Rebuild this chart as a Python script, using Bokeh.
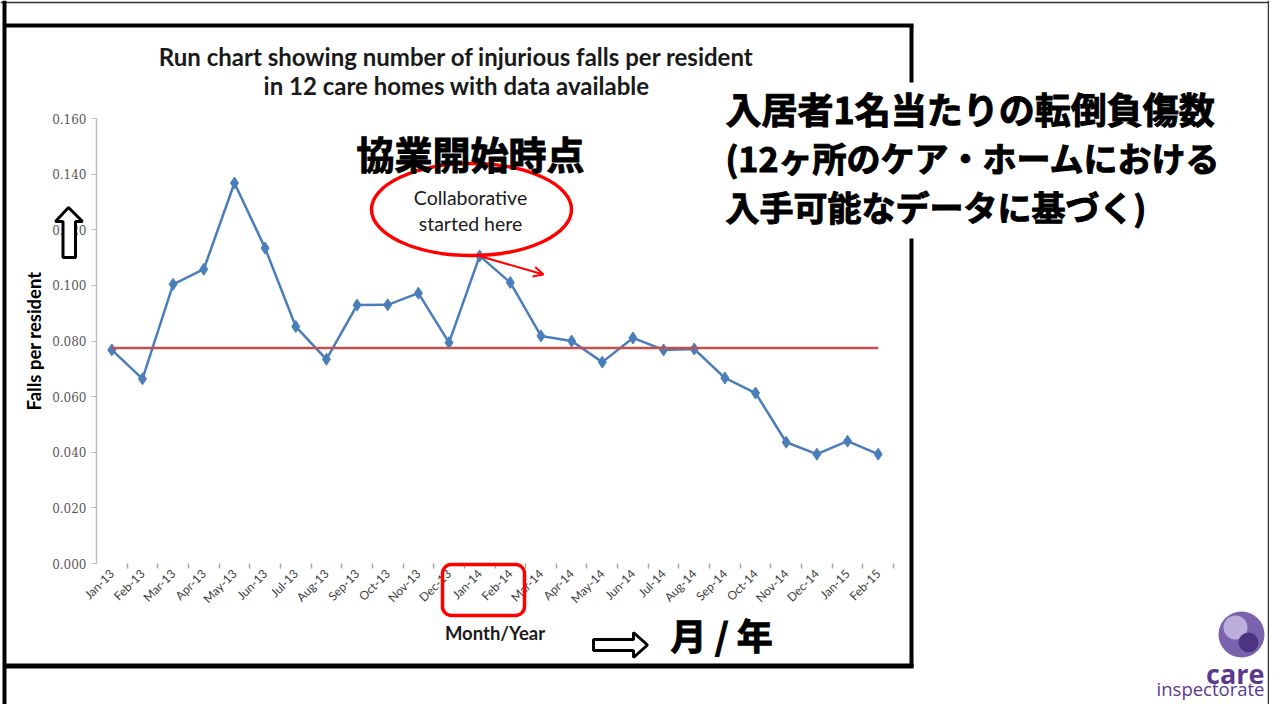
import math
from bokeh.plotting import figure
from bokeh.layouts import column
from bokeh.models import (Range1d, FixedTicker, CustomJSTickFormatter, NumeralTickFormatter,
                          Label, Arrow, OpenHead, BoxAnnotation)
from bokeh.embed import file_html
from bokeh.resources import INLINE

# ---------------- data ----------------
months = ["Jan-13", "Feb-13", "Mar-13", "Apr-13", "May-13", "Jun-13", "Jul-13", "Aug-13",
          "Sep-13", "Oct-13", "Nov-13", "Dec-13", "Jan-14", "Feb-14", "Mar-14", "Apr-14",
          "May-14", "Jun-14", "Jul-14", "Aug-14", "Sep-14", "Oct-14", "Nov-14", "Dec-14",
          "Jan-15", "Feb-15"]
falls_per_resident = [0.0768, 0.0664, 0.1004, 0.1058, 0.1368, 0.1134, 0.0852, 0.0734,
                      0.0929, 0.0930, 0.0972, 0.0794, 0.1106, 0.1010, 0.0818, 0.0800,
                      0.0724, 0.0811, 0.0768, 0.0771, 0.0667, 0.0613, 0.0436, 0.0393,
                      0.0440, 0.0393]
mean_line = [0.0775] * 26
y_ticks = [0.000, 0.020, 0.040, 0.060, 0.080, 0.100, 0.120, 0.140, 0.160]

title_lines = ["Run chart showing number of injurious falls per resident",
               "in 12 care homes with  data available"]
jp_title = ["入居者1名当たりの転倒負傷数", "(12ヶ所のケア・ホームにおける", "入手可能なデータに基づく)"]
jp_start = "協業開始時点"
callout = ["Collaborative", "started here"]
jp_axis = "月 / 年"

# ---------------- chart figure ----------------
W, H = 1269, 704
FL, FR, FT, FB = 96, 893, 118, 563   # plot frame in pixels

p = figure(width=W, height=H, output_backend="svg", toolbar_location=None,
           x_range=Range1d(0, len(months)), y_range=Range1d(0, 0.16),
           min_border_left=FL, min_border_right=W - FR,
           min_border_top=FT, min_border_bottom=H - FB, frame_align=False)
p.background_fill_color = "white"
p.border_fill_color = "white"
p.outline_line_color = None
p.grid.visible = False

ya = p.yaxis[0]
ya.ticker = FixedTicker(ticks=y_ticks)
ya.formatter = NumeralTickFormatter(format="0.000")
ya.major_label_text_font = "DejaVu Serif"
ya.major_label_text_font_size = "12px"
ya.major_label_text_color = "#595959"
ya.axis_line_color = "#bfbfbf"
ya.axis_line_width = 1.5
ya.major_tick_line_color = "#bfbfbf"
ya.major_tick_out = 5
ya.major_tick_in = 0
ya.minor_tick_line_color = None
ya.major_label_standoff = 5
ya.axis_label = "Falls per resident"
ya.axis_label_text_font = "Lato"
ya.axis_label_text_font_style = "bold"
ya.axis_label_text_font_size = "18.5px"
ya.axis_label_text_color = "black"
ya.axis_label_standoff = 4

centers = [i + 0.5 for i in range(len(months))]
xa = p.xaxis[0]
xa.ticker = FixedTicker(ticks=centers, minor_ticks=list(range(1, len(months) + 1)))
xa.formatter = CustomJSTickFormatter(args=dict(labels=months),
                                     code="return labels[Math.floor(tick)];")
xa.major_label_orientation = math.pi / 4
xa.major_label_text_font = "Lato"
xa.major_label_text_font_size = "12px"
xa.major_label_text_color = "#404040"
xa.axis_line_color = None
xa.major_tick_line_color = None
xa.major_tick_out = 5
xa.minor_tick_line_color = "#a6a6a6"
xa.minor_tick_line_width = 1.5
xa.minor_tick_out = 5
xa.minor_tick_in = 0
xa.major_label_standoff = 3
xa.axis_label = "Month/Year"
xa.axis_label_text_font = "Lato"
xa.axis_label_text_font_style = "bold"
xa.axis_label_text_font_size = "18.5px"
xa.axis_label_text_color = "#1a1a1a"
xa.axis_label_standoff = 8

p.line(centers, falls_per_resident, line_color="#4a7ebb", line_width=2.5)
p.scatter(centers, falls_per_resident, marker="diamond", size=12,
          fill_color="#4a7ebb", line_color="#4a7ebb")
p.line(centers, mean_line, line_color="#c0504d", line_width=2.5)

# ---------------- overlay figure (slide annotations, pixel coords) ----------------
fg = figure(width=W, height=H, output_backend="svg", toolbar_location=None,
            x_range=Range1d(0, W), y_range=Range1d(H, 0),
            x_axis_type=None, y_axis_type=None, min_border=0, frame_align=False)
fg.background_fill_color = None
fg.border_fill_color = None
fg.outline_line_color = None
fg.styles = {"margin-top": f"-{H}px"}


def lab(x, y, text, font, size, style="normal", color="black", align="center",
        baseline="middle", outline=None):
    kw = {}
    if outline:
        kw["text_outline_color"] = outline
    fg.add_layout(Label(x=x, y=y, text=text, text_font=font, text_font_size=size,
                        text_font_style=style, text_color=color, text_align=align,
                        text_baseline=baseline, **kw))


# slide frames
fg.segment(x0=[0, 4, 1268, 4, 911, 911, 4], y0=[2, 0, 0, 25, 25, 238, 665.5],
           x1=[W, 4, 1268, 913, 911, 911, 913], y1=[2, H, H, 25, 82, 667, 665.5],
           line_color=["#333333", "black", "#333333", "black", "black", "black", "black"],
           line_width=[1.5, 4, 1.5, 4, 4, 4, 5])

# chart title
lab(456, 56, title_lines[0], "Lato", "24px", "bold", color="#1a1a1a")
lab(459, 85, title_lines[1], "Lato", "24px", "bold", color="#1a1a1a")

# callout
fg.ellipse(x=[471], y=[209], width=200, height=92, width_units="screen",
           height_units="screen", fill_alpha=0, line_color="#ff0000", line_width=3.5)
for txt, yy in zip(callout, [197, 223]):
    lab(470, yy, txt, "Lato", "19.5px", color="#1a1a1a")
fg.add_layout(Arrow(x_start=477, y_start=255, x_end=543, y_end=274,
                    line_color="#ff0000", line_width=2,
                    end=OpenHead(size=10, line_color="#ff0000", line_width=2)))
lab(470, 152, jp_start, "Noto Sans CJK JP", "38px", "bold", outline="black")

# Japanese title block
for txt, yy, sz in zip(jp_title, [107, 157, 206], ["36px", "34px", "34px"]):
    lab(725, yy, txt, "Noto Sans CJK JP", sz, "bold", align="left", outline="black")

# hollow arrows
fg.patch([68, 82, 75, 75, 62.5, 62.5, 55], [207, 221, 221, 257, 257, 221, 221],
         fill_color="white", line_color="black", line_width=3)
fg.patch([593, 633, 633, 647, 633, 633, 593], [639, 639, 632, 644.5, 657, 650, 650],
         fill_color="white", line_color="black", line_width=3)
lab(670, 633, jp_axis, "Noto Sans CJK JP", "36px", "bold", align="left", outline="black")

# red rounded box around Jan-14 / Feb-14
fg.add_layout(BoxAnnotation(left=442, right=524, top=564, bottom=615, fill_alpha=0,
                            line_color="#ff0000", line_width=3.5, line_alpha=1,
                            border_radius=9))

# logo
cx, cy = 1241, 634
fg.ellipse(x=[cx, cx - 6, cx + 7], y=[cy, cy - 7, cy + 8], width=[46, 24, 20],
           height=[46, 24, 20], width_units="screen", height_units="screen",
           fill_color=["#7a62ad", "#bcaedb", "#4d3384"], line_color=None)
lab(1264, 673, "care", "Open Sans", "27px", "bold", color="#5b3a8e", align="right",
    baseline="alphabetic")
lab(1264, 688, "inspectorate", "Open Sans", "18.5px", color="#5b3a8e", align="right",
    baseline="alphabetic")

root = column(p, fg)
open("out.html", "w").write(file_html(root, INLINE))
